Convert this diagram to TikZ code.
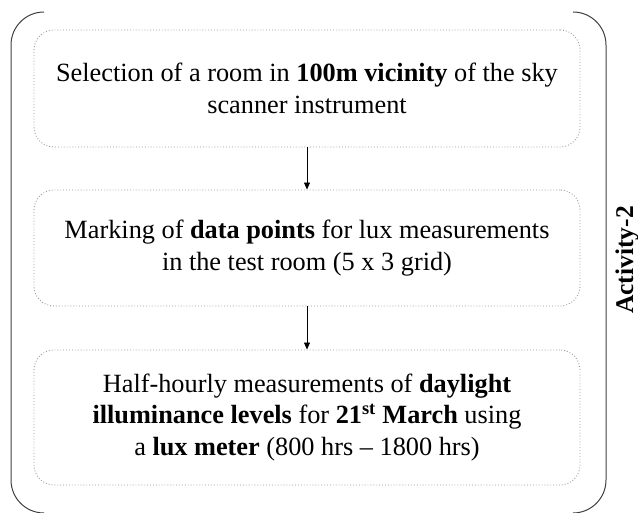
\documentclass[tikz,border=0pt]{standalone}
\usepackage{fontspec}
\setmainfont{Liberation Serif}
\usetikzlibrary{arrows.meta}
\definecolor{outerc}{HTML}{404040}
\definecolor{dotc}{HTML}{9A9A9A}
\tikzset{
  stepbox/.style={draw=dotc, dotted, line width=0.9pt, rounded corners=20pt,
    minimum width=546pt, align=center, inner sep=0pt,
    font=\fontsize{26.3}{31.5}\selectfont},
  flow/.style={-{Triangle[length=7pt,width=6pt]}, line width=0.8pt, black},
  bracket/.style={draw=outerc, line width=1pt}
}
\begin{document}
\begin{tikzpicture}[x=1pt,y=1pt]
\useasboundingbox (0,0) rectangle (638,513);
% outer brackets
\draw[bracket] (44,501) arc[start angle=90,end angle=180,radius=33] -- (11,33) arc[start angle=180,end angle=270,radius=33];
\draw[bracket] (573,501) arc[start angle=90,end angle=0,radius=33] -- (606,33) arc[start angle=0,end angle=-90,radius=33];
% boxes
\node[stepbox, minimum height=117pt] (b1) at (307,424.5)
  {Selection of a room in \textbf{100m vicinity} of the sky\\scanner instrument};
\node[stepbox, minimum height=116pt] (b2) at (307,265)
  {Marking of \textbf{data points} for lux measurements\\in the test room (5 x 3 grid)};
\node[stepbox, minimum height=135pt] (b3) at (307,95.5)
  {Half-hourly measurements of \textbf{daylight}\\\textbf{illuminance levels} for \textbf{21\textsuperscript{st} March} using\\a \textbf{lux meter} (800 hrs -- 1800 hrs)};
\draw[flow] (b1) -- (b2);
\draw[flow] (b2) -- (b3);
\node[rotate=90, font=\fontsize{25.5}{28}\selectfont\bfseries] (act) at (627,253) {Activity-2};
\end{tikzpicture}
\end{document}
